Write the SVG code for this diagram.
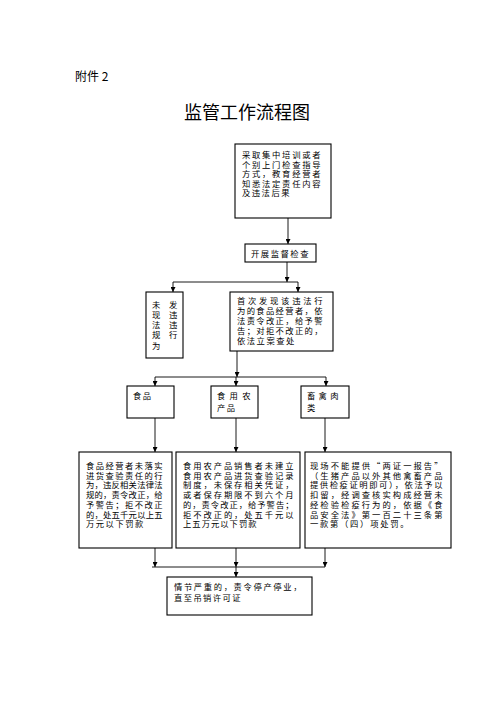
<svg xmlns="http://www.w3.org/2000/svg" width="496" height="702" viewBox="0 0 496 702">
<style>
text{font-family:"Noto Sans CJK SC","Noto Sans",sans-serif;fill:#000}
.t{font-size:8.3px;letter-spacing:1.5px}
.box{fill:#fff;stroke:#000;stroke-width:1.1}
.ln{fill:none;stroke:#000;stroke-width:0.9}
.ar{marker-end:url(#ah)}
</style>
<defs>
<marker id="ah" viewBox="0 0 6 6" refX="6" refY="3" markerWidth="5" markerHeight="5" markerUnits="userSpaceOnUse" orient="auto">
<path d="M0,0 L6,3 L0,6 z" fill="#000"/>
</marker>
</defs>
<rect width="496" height="702" fill="#fff"/>
<text x="75" y="81" style="font-size:12px">附件 2</text>
<text x="247" y="119" text-anchor="middle" style="font-size:18px">监管工作流程图</text>

<g id="connectors">
<path class="ln ar" d="M288,218 V244"/>
<path class="ln ar" d="M287,262 V282"/>
<path class="ln" d="M173,282 H298"/>
<path class="ln ar" d="M173,282 V292"/>
<path class="ln ar" d="M298,282 V292"/>
<path class="ln ar" d="M237,351 V377"/>
<path class="ln" d="M155,377 H326"/>
<path class="ln ar" d="M155,377 V386"/>
<path class="ln ar" d="M236,377 V386"/>
<path class="ln ar" d="M326,377 V386"/>
<path class="ln ar" d="M155,418 V452"/>
<path class="ln ar" d="M236,418 V452"/>
<path class="ln ar" d="M325,418 V452"/>
<path class="ln ar" d="M155,548 V567"/>
<path class="ln ar" d="M236,548 V567"/>
<path class="ln ar" d="M325,548 V567"/>
<path class="ln" d="M152,567 H325"/>
<path class="ln ar" d="M236,567 V577"/>
</g>

<g id="n1">
<rect class="box" x="235" y="144" width="96" height="74"/>
<text class="t" x="242" y="158" textLength="80" lengthAdjust="spacing">采取集中培训或者</text>
<text class="t" x="242" y="167.5" textLength="80" lengthAdjust="spacing">个别上门检查指导</text>
<text class="t" x="242" y="177" textLength="80" lengthAdjust="spacing">方式，教育经营者</text>
<text class="t" x="242" y="186.5" textLength="80" lengthAdjust="spacing">知悉法定责任内容</text>
<text class="t" x="242" y="196">及违法后果</text>
</g>

<g id="n2">
<rect class="box" x="245" y="244" width="71" height="18"/>
<text class="t" x="251" y="257" textLength="59" lengthAdjust="spacing">开展监督检查</text>
</g>

<g id="n3">
<rect class="box" x="146" y="292" width="37" height="66"/>
<text class="t" x="152" y="307.5">未</text><text class="t" x="169" y="307.5">发</text>
<text class="t" x="152" y="318">现</text><text class="t" x="169" y="318">违</text>
<text class="t" x="152" y="328">法</text><text class="t" x="169" y="328">违</text>
<text class="t" x="152" y="338">规</text><text class="t" x="169" y="338">行</text>
<text class="t" x="152" y="348.5">为</text>
</g>

<g id="n4">
<rect class="box" x="230" y="292" width="103" height="59"/>
<text class="t" x="237" y="304" textLength="87" lengthAdjust="spacing">首次发现该违法行</text>
<text class="t" x="237" y="314" textLength="87" lengthAdjust="spacing">为的食品经营者，依</text>
<text class="t" x="237" y="324" textLength="87" lengthAdjust="spacing">法责令改正，给予警</text>
<text class="t" x="237" y="334" textLength="87" lengthAdjust="spacing">告；对拒不改正的，</text>
<text class="t" x="237" y="344">依法立案查处</text>
</g>

<g id="n5">
<rect class="box" x="127" y="386" width="47" height="32"/>
<text class="t" x="133" y="399">食品</text>
</g>
<g id="n6">
<rect class="box" x="211" y="386" width="47" height="32"/>
<text class="t" x="217" y="399" textLength="35" lengthAdjust="spacing">食用农</text>
<text class="t" x="217" y="411">产品</text>
</g>
<g id="n7">
<rect class="box" x="301" y="386" width="48" height="32"/>
<text class="t" x="307" y="399" textLength="33" lengthAdjust="spacing">畜禽肉</text>
<text class="t" x="307" y="411">类</text>
</g>

<g id="n8">
<rect class="box" x="79" y="452" width="93" height="96"/>
<text class="t" x="86" y="469" textLength="78" lengthAdjust="spacing">食品经营者未落实</text>
<text class="t" x="86" y="478.5" textLength="78" lengthAdjust="spacing">进货查验责任的行</text>
<text class="t" x="86" y="488" textLength="78" lengthAdjust="spacing">为，违反相关法律法</text>
<text class="t" x="86" y="498" textLength="78" lengthAdjust="spacing">规的，责令改正，给</text>
<text class="t" x="86" y="508" textLength="78" lengthAdjust="spacing">予警告；拒不改正</text>
<text class="t" x="86" y="517.5" textLength="78" lengthAdjust="spacing">的，处五千元以上五</text>
<text class="t" x="86" y="527">万元以下罚款</text>
</g>

<g id="n9">
<rect class="box" x="176" y="452" width="124" height="96"/>
<text class="t" x="183" y="469" textLength="112" lengthAdjust="spacing">食用农产品销售者未建立</text>
<text class="t" x="183" y="478.5" textLength="112" lengthAdjust="spacing">食用农产品进货查验记录</text>
<text class="t" x="183" y="488" textLength="112" lengthAdjust="spacing">制度，未保存相关凭证，</text>
<text class="t" x="183" y="498" textLength="112" lengthAdjust="spacing">或者保存期限不到六个月</text>
<text class="t" x="183" y="508" textLength="112" lengthAdjust="spacing">的，责令改正，给予警告；</text>
<text class="t" x="183" y="517.5" textLength="112" lengthAdjust="spacing">拒不改正的，处五千元以</text>
<text class="t" x="183" y="527" textLength="75" lengthAdjust="spacing">上五万元以下罚款</text>
</g>

<g id="n10">
<rect class="box" x="305" y="452" width="146" height="96"/>
<text class="t" x="310" y="469" textLength="134" lengthAdjust="spacing">现场不能提供“两证一报告”</text>
<text class="t" x="310" y="478.5" textLength="134" lengthAdjust="spacing">（生猪产品以外其他禽畜产品</text>
<text class="t" x="310" y="488" textLength="134" lengthAdjust="spacing">提供检疫证明即可），依法予以</text>
<text class="t" x="310" y="498" textLength="134" lengthAdjust="spacing">扣留，经调查核实构成经营未</text>
<text class="t" x="310" y="508" textLength="134" lengthAdjust="spacing">经检验检疫行为的，依据《食</text>
<text class="t" x="310" y="517.5" textLength="134" lengthAdjust="spacing">品安全法》第一百二十三条第</text>
<text class="t" x="310" y="527" textLength="100" lengthAdjust="spacing">一款第（四）项处罚。</text>
</g>

<g id="n11">
<rect class="box" x="167" y="577" width="145" height="38"/>
<text class="t" x="174" y="590" textLength="129" lengthAdjust="spacing">情节严重的，责令停产停业，</text>
<text class="t" x="174" y="600.5" textLength="68" lengthAdjust="spacing">直至吊销许可证</text>
</g>
</svg>
